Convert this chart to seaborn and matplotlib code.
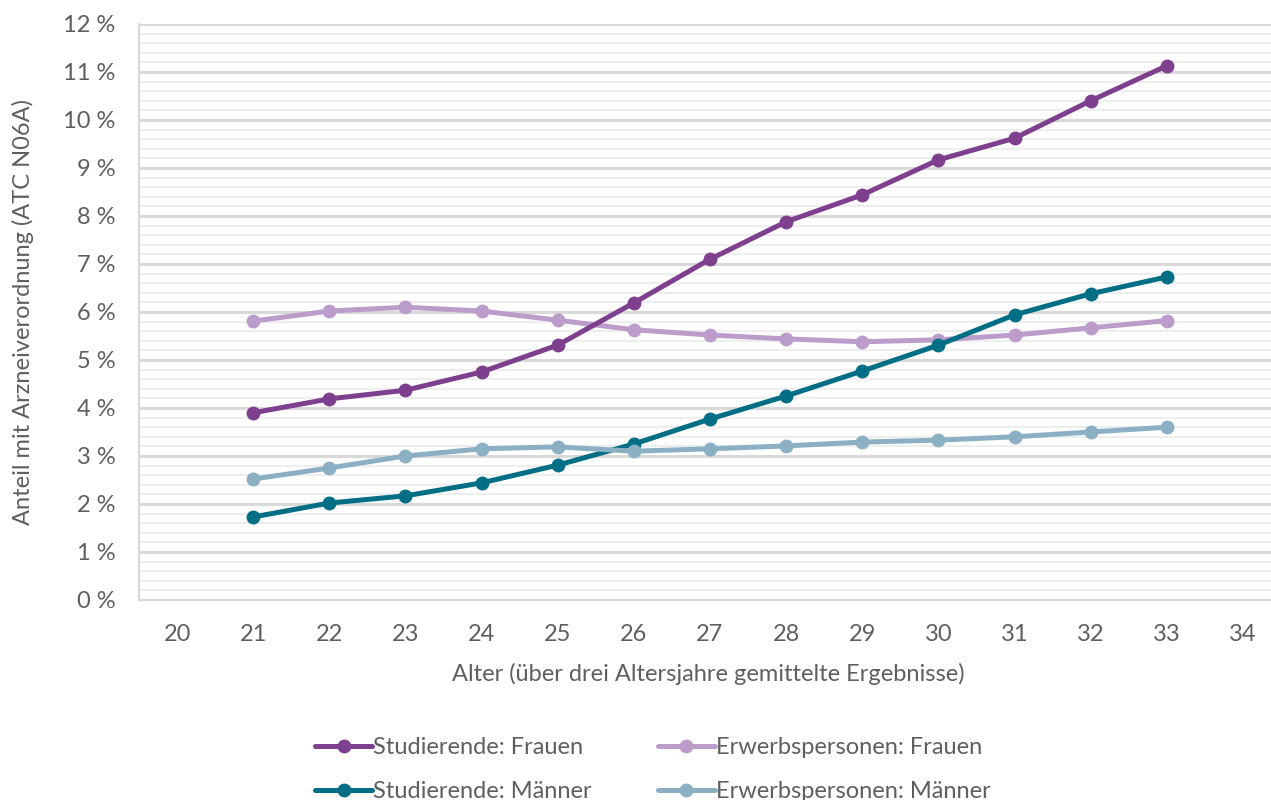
import numpy as np
import pandas as pd
import matplotlib
matplotlib.use("Agg")
import matplotlib.pyplot as plt
from matplotlib.lines import Line2D
from matplotlib.ticker import MultipleLocator, FuncFormatter
import seaborn as sns

# Data (values in percent)
alter = list(range(21, 34))
stud_frauen = [3.90, 4.19, 4.37, 4.75, 5.31, 6.19, 7.10, 7.88, 8.44, 9.17, 9.62, 10.40, 11.13]
erw_frauen = [5.81, 6.02, 6.10, 6.02, 5.83, 5.63, 5.52, 5.44, 5.38, 5.42, 5.52, 5.67, 5.82]
stud_maenner = [1.73, 2.02, 2.17, 2.44, 2.81, 3.25, 3.77, 4.25, 4.77, 5.31, 5.94, 6.38, 6.73]
erw_maenner = [2.52, 2.75, 3.00, 3.15, 3.19, 3.10, 3.15, 3.21, 3.29, 3.33, 3.40, 3.50, 3.60]

series_names = ["Studierende: Frauen", "Erwerbspersonen: Frauen",
                "Studierende: Männer", "Erwerbspersonen: Männer"]
series_values = [stud_frauen, erw_frauen, stud_maenner, erw_maenner]
colors = {"Studierende: Frauen": "#7e3f8f",
          "Erwerbspersonen: Frauen": "#bb9ccb",
          "Studierende: Männer": "#006e85",
          "Erwerbspersonen: Männer": "#8cb0c3"}

rows = []
for name, vals in zip(series_names, series_values):
    for a, v in zip(alter, vals):
        rows.append({"Alter": a, "Anteil": v, "Gruppe": name})
df = pd.DataFrame(rows)

sns.set_theme(style="white")
plt.rcParams['font.family'] = ['Lato', 'DejaVu Sans']
text_color = "#5f5f5f"

fig = plt.figure(figsize=(12.71, 8.0), dpi=100)
# x: 19.5 -> 139 px, 34.5 -> 1281 px ; y: 0 -> 600 px, 12 -> 24 px
ax = fig.add_axes([139 / 1271, 1 - 600 / 800, 1142 / 1271, 576 / 800])

draw_order = ["Erwerbspersonen: Frauen", "Studierende: Frauen",
              "Studierende: Männer", "Erwerbspersonen: Männer"]
for z, name in enumerate(draw_order):
    sns.lineplot(data=df[df["Gruppe"] == name], x="Alter", y="Anteil",
                 color=colors[name], linewidth=3.6, marker="o", markersize=10,
                 markeredgewidth=0, ax=ax, zorder=3 + z, legend=False)

ax.set_xlim(19.5, 34.5)
ax.set_ylim(0, 12)
ax.set_xticks(range(20, 35))
ax.yaxis.set_major_locator(MultipleLocator(1))
ax.yaxis.set_minor_locator(MultipleLocator(0.2))
ax.yaxis.set_major_formatter(FuncFormatter(lambda v, p: f"{int(round(v))} %"))

ax.grid(axis="y", which="minor", color="#eeeeee", linewidth=1.6, zorder=0)
ax.grid(axis="y", which="major", color="#d9d9d9", linewidth=2.2, zorder=1)
ax.grid(axis="x", visible=False)
ax.set_axisbelow(True)

for s in ["top", "right"]:
    ax.spines[s].set_visible(False)
for s in ["left", "bottom"]:
    ax.spines[s].set_color("#d9d9d9")
    ax.spines[s].set_linewidth(1.6)

ax.tick_params(axis="both", which="both", length=0, labelsize=17, colors=text_color)
ax.tick_params(axis="x", pad=17)
ax.tick_params(axis="y", pad=17)

ax.set_xlabel("Alter (über drei Altersjahre gemittelte Ergebnisse)", fontsize=17,
              color=text_color)
ax.set_ylabel("Anteil mit Arzneiverordnung (ATC N06A)", fontsize=17,
              color=text_color)
ax.xaxis.set_label_coords((708 - 139) / 1142, -(663 - 600) / 576)
ax.yaxis.set_label_coords(-(139 - 34) / 1142, 0.5)

legend_order = ["Studierende: Frauen", "Studierende: Männer",
                "Erwerbspersonen: Frauen", "Erwerbspersonen: Männer"]
handles = [Line2D([0], [0], color=colors[n], linewidth=3.6, marker="o",
                  markersize=10, markeredgewidth=0) for n in legend_order]
fig.legend(handles, legend_order, loc="upper left", ncol=2,
           bbox_to_anchor=(306 / 1271, 1 - 728 / 800), frameon=False,
           fontsize=17, labelcolor=text_color, handlelength=2.4,
           handletextpad=0.05, columnspacing=2.8, labelspacing=0.95,
           borderaxespad=0)

fig.savefig("out.png", dpi=100)
